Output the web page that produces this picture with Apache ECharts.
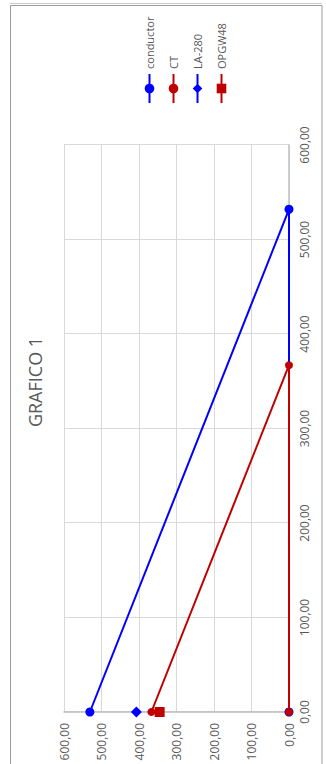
<!DOCTYPE html>
<html><head><meta charset="utf-8">
<script src="https://cdn.jsdelivr.net/npm/echarts@6/dist/echarts.min.js"></script>
<style>
html,body{margin:0;padding:0;background:#fff;overflow:hidden;width:326px;height:764px}
#wrap{position:absolute;left:0;top:0;width:764px;height:326px;transform-origin:0 0;transform:rotate(-90deg) translate(-764px,0);}
</style></head><body><div id="wrap"></div>
<script>
const titleText = 'GRAFICO 1';
const seriesNames = ['conductor', 'CT', 'LA-280', 'OPGW48'];
const conductor = [[0, 531], [532, 0], [0, 0]];
const ct = [[0, 367], [367, 0], [0, 0]];
const la280 = [[0, 407]];
const opgw48 = [[0, 345]];
const axisMin = 0, axisMax = 600, axisStep = 100;

const fmt = v => v.toFixed(2).replace('.', ',');
const txt = '#595959';
const font = 'Open Sans';
const chart = echarts.init(document.getElementById('wrap'), null, {renderer: 'svg', width: 764, height: 326});
chart.setOption({
  animation: false,
  backgroundColor: '#fff',
  textStyle: {fontFamily: font},
  title: {text: titleText, left: 'center', top: 21, textStyle: {fontFamily: font, fontSize: 18, fontWeight: 'normal', color: txt}},
  legend: {
    orient: 'vertical', left: 655, top: 139, padding: 5, itemWidth: 29, itemHeight: 12, itemGap: 13,
    textStyle: {fontFamily: font, fontSize: 11, color: txt},
    data: seriesNames
  },
  grid: {left: 52, right: 145, top: 64, bottom: 37, containLabel: false},
  xAxis: {
    type: 'value', min: axisMin, max: axisMax, interval: axisStep,
    axisLine: {show: true, onZero: false, lineStyle: {color: '#bfbfbf', width: 1.5}},
    axisTick: {show: false},
    splitLine: {show: true, lineStyle: {color: '#d9d9d9', width: 1}},
    axisLabel: {formatter: fmt, color: txt, fontSize: 12, margin: 9, fontFamily: font}
  },
  yAxis: {
    type: 'value', min: axisMin, max: axisMax, interval: axisStep,
    axisLine: {show: true, onZero: false, lineStyle: {color: '#bfbfbf', width: 1.5}},
    axisTick: {show: false},
    splitLine: {show: true, lineStyle: {color: '#d9d9d9', width: 1}},
    axisLabel: {formatter: fmt, color: txt, fontSize: 12, margin: 11, fontFamily: font}
  },
  graphic: [
    {type: 'rect', shape: {x: -5, y: 10.5, width: 763.5, height: 311.5}, style: {fill: 'none', stroke: '#9a9a9a', lineWidth: 1}, silent: true},
    {type: 'line', shape: {x1: 760.5, y1: 10, x2: 760.5, y2: 322}, style: {stroke: '#c8c8c8', lineWidth: 1}, silent: true}
  ],
  series: [
    {name: seriesNames[0], type: 'line', data: conductor, symbol: 'circle', symbolSize: 9,
     lineStyle: {color: '#0000ff', width: 2}, itemStyle: {color: '#0000ff'}, z: 2},
    {name: seriesNames[1], type: 'line', data: ct, symbol: 'circle', symbolSize: 8,
     lineStyle: {color: '#c00000', width: 2}, itemStyle: {color: '#c00000'}, z: 3},
    {name: seriesNames[2], type: 'line', data: la280, symbol: 'diamond', symbolSize: 11,
     lineStyle: {color: '#0000ff', width: 2}, itemStyle: {color: '#0000ff'}, z: 4},
    {name: seriesNames[3], type: 'line', data: opgw48, symbol: 'rect', symbolSize: 10,
     lineStyle: {color: '#c00000', width: 2}, itemStyle: {color: '#c00000'}, z: 5}
  ]
});
</script></body></html>
